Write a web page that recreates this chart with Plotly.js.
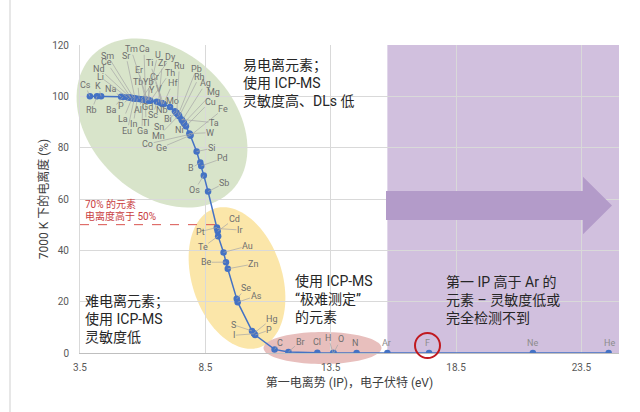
<!DOCTYPE html>
<html>
<head>
<meta charset="utf-8">
<script src="https://cdn.plot.ly/plotly-3.0.1.min.js"></script>
<style>
  html, body { margin: 0; padding: 0; background: #fff; }
  #chart { width: 640px; height: 412px; }
</style>
</head>
<body>
<div id="chart"></div>
<script>
// Elements ordered by first ionization potential
const elements = ["Cs","Rb","K","Na","Ba","Li","P","Nd","Ce","La","Sm","Eu","Sr","In","Tb","Dy","Al","Ga","Er","Tl","Ca","Gd","Tm","U","Y","Yb","Th","Sc","Zr","V","Nb","Cr","Hf","Ti","Mo","Bi","Sn","Ru","Pb","Mn","Rh","Ta","Ag","Ni","Mg","Cu","W","Co","Ge","Fe","Si","B","Pd","Os","Sb","Pt","Ir","Cd","Te","Au","Be","Zn","Se","As","S","Hg","I","P","C","Br","Cl","H","O","N","Ar","F","Ne","He"];
// First ionization potential (eV)
const ionizationPotential = [3.894,4.177,4.341,5.139,5.212,5.392,5.473,5.525,5.539,5.577,5.644,5.670,5.695,5.786,5.864,5.939,5.986,5.999,6.108,6.108,6.113,6.150,6.184,6.194,6.217,6.254,6.307,6.561,6.634,6.746,6.759,6.767,6.825,6.828,7.092,7.286,7.344,7.361,7.417,7.434,7.459,7.550,7.576,7.640,7.646,7.726,7.864,7.881,7.899,7.902,8.152,8.298,8.337,8.438,8.608,8.959,8.967,8.994,9.010,9.226,9.323,9.394,9.752,9.789,10.360,10.438,10.451,10.487,11.260,11.814,12.968,13.598,13.618,14.534,15.760,17.423,21.565,24.587];
// Degree of ionization at 7000 K (%)
const ionizationDegree = [100,100,100,99.8,99.7,99.6,99.5,99.4,99.4,99.3,99.3,99.2,99.2,99.1,99.0,98.9,98.9,98.8,98.7,98.7,98.7,98.6,98.6,98.5,98.5,98.4,98.3,97.9,97.7,97.3,97.3,97.2,97.0,97.0,95.8,94.2,93.6,93.4,92.8,92.5,92.2,91.0,90.6,89.7,89.6,88.3,85.5,85.2,84.8,84.7,78.5,74.2,72.9,69.2,62.9,48.9,48.5,47.4,45.5,39.2,35.4,32.8,21.1,19.8,8.6,7.7,7.5,7.0,1.4,0.4,0.05,0.01,0.01,0,0,0,0,0];
const xTicks = [3.5, 8.5, 13.5, 18.5, 23.5];
const yTicks = [0, 20, 40, 60, 80, 100, 120];
const argonIP = 15.76;
const halfIonized = 50;

// ---- page geometry (px) ----
const PAGE = {w: 640, h: 412};
const M = {l: 80, r: 21, t: 45, b: 59};
const PW = PAGE.w - M.l - M.r, PH = PAGE.h - M.t - M.b;
const XR = [3.5, 25], YR = [0, 120];
const paperX = px => (px - M.l) / PW;
const paperY = py => (PAGE.h - M.b - py) / PH;
const dataX = px => XR[0] + paperX(px) * (XR[1] - XR[0]);
const dataY = py => YR[0] + paperY(py) * (YR[1] - YR[0]);

// label placement for each element, page px (same order as elements)
const labelPx = [[85,85],[91.7,110],[98.3,85.7],[110.7,89],[111.7,110],[100,76.7],[121.3,106],[99.3,68.7],[106.7,62.3],[123.3,119],[107.7,55.7],[127.3,130.7],[126,55.7],[133.3,124],[137.7,82.3],[170.7,57.3],[138,110],[142,131.3],[138.7,70],[146,122.7],[144,49.3],[147.7,106.7],[131,49.3],[157.7,54.7],[151.7,90.3],[148.3,82.3],[170,72.7],[153.3,115],[162.3,63.3],[159,88.7],[161.7,110],[154,76.7],[172.7,83.3],[150,63.3],[172.7,100.7],[167.7,118.7],[159.3,126.7],[179.3,66],[196.7,68.7],[158.7,136],[199.3,76.7],[214,122.7],[205.7,83.3],[179,130],[213.3,92],[210,101.7],[210,132.7],[147.7,144],[161,147.7],[223.3,109],[212,148.3],[191,168.3],[222.7,158.3],[194.7,190],[224.3,183.3],[200,231.7],[240,230],[234,219],[202.7,247.3],[247.7,246],[206,262.3],[253.3,264],[246,288],[256,296],[233.3,324.7],[271.7,319],[234.3,335.3],[269.3,330],[280,342.7],[300,341.7],[316.7,341.7],[328.3,337.7],[340.7,339.3],[355.3,343.3],[386,343.3],[427.7,343.3],[532.3,343.3],[609,343.3]];
const noLeader = new Set(["Cl","N","Ar","F","Ne","He"]);
const faintLabel = new Set(["Ar","F","Ne","He"]);

const FONT = 'Roboto, "Noto Sans CJK SC", sans-serif';

// rotated ellipse as an SVG path in paper coordinates
function ellipsePath(cx, cy, a, b, deg) {
  const phi = deg * Math.PI / 180, n = 96;
  let d = '';
  for (let i = 0; i < n; i++) {
    const t = 2 * Math.PI * i / n;
    const px = cx + a * Math.cos(t) * Math.cos(phi) - b * Math.sin(t) * Math.sin(phi);
    const py = cy + a * Math.cos(t) * Math.sin(phi) + b * Math.sin(t) * Math.cos(phi);
    d += (i ? 'L' : 'M') + paperX(px).toFixed(5) + ',' + paperY(py).toFixed(5);
  }
  return d + 'Z';
}
function polyPath(pts) {
  return pts.map((p, i) => (i ? 'L' : 'M') + paperX(p[0]).toFixed(5) + ',' + paperY(p[1]).toFixed(5)).join('') + 'Z';
}

const shapes = [
  // chart frame edge on the left
  {type: 'line', xref: 'paper', yref: 'paper', x0: paperX(10), x1: paperX(10), y0: paperY(0), y1: paperY(PAGE.h),
   line: {color: '#cfcfcf', width: 1}, layer: 'below'},
  // region of elements with IP above argon
  {type: 'rect', xref: 'x', yref: 'paper', x0: argonIP, x1: XR[1], y0: 0, y1: 1,
   fillcolor: '#d1c0de', line: {width: 0}, layer: 'below'},
  {type: 'path', xref: 'paper', yref: 'paper', path: ellipsePath(162, 123, 97, 71, 44),
   fillcolor: '#d8e4ca', line: {width: 0}, layer: 'below'},
  {type: 'path', xref: 'paper', yref: 'paper', path: ellipsePath(237, 278, 73, 45, 72),
   fillcolor: '#fbe6a9', line: {width: 0}, layer: 'below'},
  {type: 'path', xref: 'paper', yref: 'paper', path: ellipsePath(322.5, 348, 59, 16, 0),
   fillcolor: '#e8bfbd', line: {width: 0}, layer: 'below'},
  // arrow pointing to higher IP
  {type: 'path', xref: 'paper', yref: 'paper',
   path: polyPath([[386,191],[583,191],[583,176.7],[612,205.5],[583,234.3],[583,220],[386,220]]),
   fillcolor: '#b39bc9', line: {width: 0}, layer: 'above'},
  // 50 % ionization marker
  {type: 'line', xref: 'x', yref: 'y', x0: XR[0], x1: 8.96, y0: halfIonized, y1: halfIonized,
   line: {color: '#d9534f', width: 1, dash: 'dash'}, layer: 'above'},
  // highlight around fluorine
  {type: 'circle', xref: 'paper', yref: 'paper',
   x0: paperX(415), x1: paperX(440), y0: paperY(358), y1: paperY(333),
   line: {color: '#c0191f', width: 2}, fillcolor: 'rgba(0,0,0,0)', layer: 'above'}
];

const annotations = elements.map((el, i) => ({
  x: ionizationPotential[i], y: ionizationDegree[i], xref: 'x', yref: 'y',
  ax: dataX(labelPx[i][0]), ay: dataY(labelPx[i][1]), axref: 'x', ayref: 'y',
  text: el, showarrow: true, arrowhead: 0, arrowwidth: 0.7,
  arrowcolor: noLeader.has(el) ? 'rgba(0,0,0,0)' : '#a6a6a6',
  standoff: 0, startstandoff: 0, borderpad: 0,
  font: {family: FONT, size: 9, color: faintLabel.has(el) ? '#8c8c8c' : '#6f6f6f'}
}));

function note(text, px, py, size, color) {
  return {xref: 'paper', yref: 'paper', x: paperX(px), y: paperY(py), xanchor: 'left', yanchor: 'middle',
          align: 'left', showarrow: false, text: text, font: {family: FONT, size: size, color: color}};
}
annotations.push(
  note('易电离元素；<br>使用 ICP-MS<br>灵敏度高、DLs 低', 240.5, 82.5, 14, '#262626'),
  note('难电离元素；<br>使用 ICP-MS<br>灵敏度低', 83, 319, 14, '#262626'),
  note('使用 ICP-MS<br>“极难测定”<br>的元素', 293, 298.5, 14, '#262626'),
  note('第一 IP 高于 Ar 的<br>元素 – 灵敏度低或<br>完全检测不到', 444, 300, 14, '#262626'),
  note('70% 的元素', 82.5, 204, 10, '#c9403f'),
  note('电离度高于 50%', 82.5, 215.7, 10, '#c9403f')
);

const trace = {
  x: ionizationPotential, y: ionizationDegree, text: elements,
  type: 'scatter', mode: 'lines+markers',
  line: {color: '#4472c4', width: 1.5},
  marker: {color: '#4472c4', size: 6.5},
  hoverinfo: 'text+x+y'
};

const layout = {
  width: PAGE.w, height: PAGE.h,
  margin: {l: M.l, r: M.r, t: M.t, b: M.b, pad: 0},
  paper_bgcolor: '#ffffff', plot_bgcolor: 'rgba(0,0,0,0)',
  showlegend: false,
  font: {family: FONT, color: '#595959'},
  xaxis: {
    range: XR, tickvals: xTicks, ticktext: xTicks.map(v => v.toFixed(1)),
    showgrid: true, gridcolor: '#d9d9d9', gridwidth: 1, zeroline: false,
    showline: true, linecolor: '#bfbfbf', linewidth: 1,
    ticks: 'outside', ticklen: 5, tickcolor: 'rgba(0,0,0,0)',
    tickfont: {family: FONT, size: 10, color: '#595959'},
    title: {text: '第一电离势 (IP)，电子伏特 (eV)', font: {family: FONT, size: 12, color: '#404040'}, standoff: 6}
  },
  yaxis: {
    range: YR, tickvals: yTicks,
    showgrid: true, gridcolor: '#d9d9d9', gridwidth: 1, zeroline: false,
    showline: true, linecolor: '#d9d9d9', linewidth: 1,
    ticks: 'outside', ticklen: 8, tickcolor: 'rgba(0,0,0,0)',
    tickfont: {family: FONT, size: 10, color: '#595959'},
    title: {text: '7000 K 下的电离度 (%)', font: {family: FONT, size: 12, color: '#404040'}, standoff: 0}
  },
  shapes: shapes,
  annotations: annotations
};

Plotly.newPlot('chart', [trace], layout, {displayModeBar: false, staticPlot: true});
</script>
</body>
</html>
